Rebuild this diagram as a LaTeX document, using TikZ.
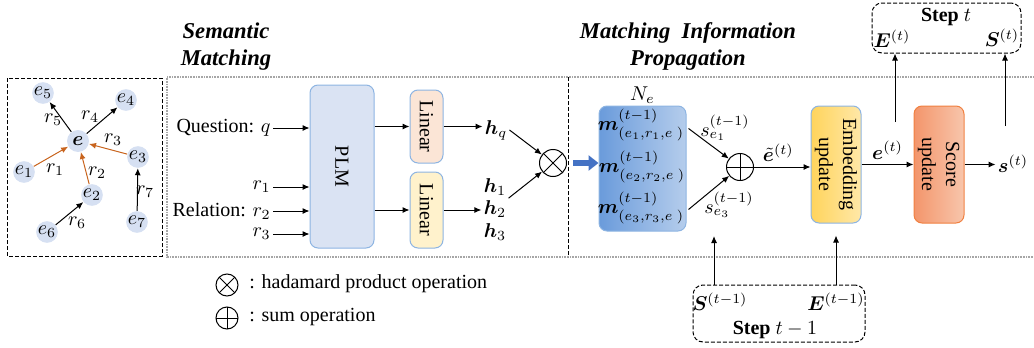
\documentclass[tikz,border=0pt]{standalone}
\usepackage{amsmath}
\usepackage{fontspec}
\usepackage{bm}
\usepackage{graphicx}
\setmainfont{Liberation Serif}
\usetikzlibrary{arrows.meta,positioning}
\definecolor{entblue}{HTML}{D6E0F2}
\definecolor{relorange}{HTML}{C8641E}
\definecolor{plmfill}{HTML}{DAE3F3}
\definecolor{boxline}{HTML}{8DB4E2}
\definecolor{linpeach}{HTML}{FBE5D6}
\definecolor{linyellow}{HTML}{FFF2CC}
\definecolor{arrblue}{HTML}{4472C4}
\definecolor{mleft}{HTML}{6A9BDB}
\definecolor{mright}{HTML}{B5CDEC}
\definecolor{embleft}{HTML}{FFD45C}
\definecolor{embright}{HTML}{FFE8A8}
\definecolor{scoreleft}{HTML}{F3956B}
\definecolor{scoreright}{HTML}{F8C6AC}
\definecolor{scoreline}{HTML}{F08040}
\tikzset{
  arr/.style={-{Latex[length=3.5pt,width=3pt]}, line width=0.5pt},
  ent/.style={circle, fill=entblue, inner sep=0pt, minimum size=9pt},
  txt/.style={inner sep=1pt},
  title/.style={font=\fontsize{11.3}{13.5}\selectfont\bfseries\itshape, align=center},
  blk/.style={draw=boxline, rounded corners=4pt, line width=0.5pt, inner sep=0pt},
  stepbox/.style={draw, dash pattern=on 2pt off 1pt, rounded corners=5pt, line width=0.5pt},
  dotline/.style={draw=gray!70, line width=1pt, dash pattern=on 0.4pt off 0.4pt},
  otimesop/.style={circle, draw, line width=0.5pt, inner sep=0pt, minimum size=#1,
    path picture={\draw (path picture bounding box.south west) -- (path picture bounding box.north east)
      (path picture bounding box.north west) -- (path picture bounding box.south east);}},
  oplusop/.style={circle, draw, line width=0.5pt, inner sep=0pt, minimum size=#1,
    path picture={\draw (path picture bounding box.north) -- (path picture bounding box.south)
      (path picture bounding box.west) -- (path picture bounding box.east);}}
}
\begin{document}
\begin{tikzpicture}[x=0.5pt,y=-0.5pt]
\useasboundingbox (0,0) rectangle (1034,348);
\draw[dash pattern=on 2pt off 1pt, line width=0.5pt] (7,78) rectangle (162,256);
\draw[dotline] (1040,77) -- (167,77) -- (167,257) -- (1040,257);
\draw[dash pattern=on 2pt off 1pt, line width=0.5pt] (568,77) -- (568,257);
\node[title] (semtitle) at (226,47) {Semantic\\Matching};
\node[title] (mptitle) at (688,46) {Matching\ \ Information\\Propagation};
% graph
\node[ent, minimum size=11pt] (e) at (78,141) {$\bm{e}$};
\node[ent] (e1) at (24,172) {$e_1$};
\node[ent] (e2) at (92,195) {$e_2$};
\node[ent] (e3) at (138,157) {$e_3$};
\node[ent] (e4) at (126,100) {$e_4$};
\node[ent] (e5) at (43,93) {$e_5$};
\node[ent] (e6) at (47,232) {$e_6$};
\node[ent] (e7) at (137,222) {$e_7$};
\draw[arr] (e) -- (e5);
\draw[arr] (e) -- (e4);
\draw[arr, relorange] (e1) -- (e);
\draw[arr, relorange] (e2) -- (e);
\draw[arr, relorange] (e3) -- (e);
\draw[arr] (e6) -- (e2);
\draw[arr] (e7) -- (e3);
\node[txt] (r1) at (55,170) {$r_1$};
\node[txt] (r2) at (97,173) {$r_2$};
\node[txt] (r3) at (113,140) {$r_3$};
\node[txt] (r4) at (90,117) {$r_4$};
\node[txt] (r5) at (53,120) {$r_5$};
\node[txt] (r6) at (77,223) {$r_6$};
\node[txt] (r7) at (145,192) {$r_7$};
% semantic matching
\node[blk, fill=plmfill, minimum width=32pt, minimum height=81.5pt] (plm) at (342,166.5) {\rotatebox{-90}{PLM}};
\node[blk, fill=linpeach, minimum width=16.5pt, minimum height=36.5pt] (lin1) at (426.5,126.5) {\rotatebox{-90}{Linear}};
\node[blk, fill=linyellow, minimum width=16.5pt, minimum height=38pt] (lin2) at (426.5,210) {\rotatebox{-90}{Linear}};
\node[txt, anchor=east] (qn) at (273,128) {Question: $q$};
\node[txt, anchor=east] (rel1) at (273,187) {$r_1$};
\node[txt, anchor=east] (rel2) at (273,211) {Relation: $r_2$};
\node[txt, anchor=east] (rel3) at (273,234) {$r_3$};
\draw[arr] (qn.east) -- (qn.east -| plm.west);
\draw[arr] (rel1.east) -- (rel1.east -| plm.west);
\draw[arr] (rel2.east) -- (rel2.east -| plm.west);
\draw[arr] (rel3.east) -- (rel3.east -| plm.west);
\draw[arr] (plm.east |- lin1.west) -- (lin1.west);
\draw[arr] (plm.east |- lin2.west) -- (lin2.west);
\node[txt] (hq) at (496,130) {$\bm{h}_q$};
\node[txt] (h1) at (495,187) {$\bm{h}_1$};
\node[txt] (h2) at (495,209) {$\bm{h}_2$};
\node[txt] (h3) at (495,232) {$\bm{h}_3$};
\draw[arr] (lin1.east) -- (lin1.east -| hq.west);
\draw[arr] (lin2.east) -- (lin2.east -| h2.west);
\node[otimesop=13.5pt] (ot) at (553,163) {};
\draw[arr] (hq.east) -- (ot);
\draw[arr] (h2.north east) -- (ot);
% propagation
\node[blk, draw=boxline, left color=mleft, right color=mright, minimum width=43.5pt, minimum height=62.5pt] (mbox) at (642.5,168.5) {};
\draw[arrblue, line width=3pt, -{Triangle[length=5pt,width=7.5pt]}] ([xshift=3pt]ot.east) -- (ot.east -| mbox.west);
\node[txt, above=0pt of mbox] (ne) {$N_e$};
\node[txt] (m1) at (641,125) {$\bm{m}^{(t-1)}_{(e_1,r_1,e\;)}$};
\node[txt] (m2) at (642,167) {$\bm{m}^{(t-1)}_{(e_2,r_2,e\;)}$};
\node[txt] (m3) at (641,208) {$\bm{m}^{(t-1)}_{(e_3,r_3,e\;)}$};
\node[oplusop=13.5pt] (op) at (740,167) {};
\node[txt] (se1) at (725,128) {$s^{(t-1)}_{e_1}$};
\node[txt] (se3) at (729,205) {$s^{(t-1)}_{e_3}$};
\draw[arr] ([xshift=1pt,yshift=20pt]mbox.east) -- (op);
\draw[arr] ([xshift=1pt,yshift=-20.5pt]mbox.east) -- (op);
\node[blk, left color=embleft, right color=embright, minimum width=25pt, minimum height=58.5pt] (emb) at (836,164.5)
  {\rotatebox{-90}{\begin{tabular}{@{}c@{}}Embedding\\update\end{tabular}}};
\node[blk, draw=scoreline, left color=scoreleft, right color=scoreright, minimum width=25pt, minimum height=58.5pt] (score) at (939,164.5)
  {\rotatebox{-90}{\begin{tabular}{@{}c@{}}Score\\update\end{tabular}}};
\draw[arr] (op.east) -- (op.east -| emb.west) node[midway, above=1.5pt, txt, xshift=-2pt] (etil) {$\tilde{\bm{e}}^{(t)}$};
\draw[arr] (emb.east |- score.west) -- (score.west) node[midway, above=1.5pt, txt] (et) {$\bm{e}^{(t)}$};
\node[txt] (st) at (1013,164) {$\bm{s}^{(t)}$};
\draw[arr] (score.east) -- (score.east -| st.west);
% steps
\node[stepbox, minimum width=74.5pt, minimum height=25pt] (stept) at (946.5,28) {};
\node[txt] (steptl) at (946,17) {\textbf{Step} $t$};
\node[txt] (ecur) at (892,39) {$\bm{E}^{(t)}$};
\node[txt] (scur) at (1002,38) {$\bm{S}^{(t)}$};
\coordinate (eout) at (895,122);
\coordinate (sout) at (1005,126);
\draw[arr] (eout) -- (eout |- stept.south);
\draw[arr] (sout) -- (sout |- stept.south);
\node[stepbox, minimum width=86pt, minimum height=28.5pt] (stepp) at (779,313.5) {};
\node[txt] (sprev) at (720,302) {$\bm{S}^{(t-1)}$};
\node[txt] (eprev) at (836,302) {$\bm{E}^{(t-1)}$};
\node[txt] (steppl) at (775,330) {\textbf{Step} $t-1$};
\coordinate (sin) at (714,236);
\draw[arr] (sin |- stepp.north) -- (sin);
\draw[arr] (emb.south |- stepp.north) -- ([yshift=-6pt]emb.south);
% legend
\node[otimesop=11pt] (lgot) at (227,285) {};
\node[txt, anchor=west] (lgott) at (247,284) {: hadamard product operation};
\node[oplusop=11pt] (lgop) at (227,318) {};
\node[txt, anchor=west] (lgopt) at (247,317) {: sum operation};
\end{tikzpicture}
\end{document}
